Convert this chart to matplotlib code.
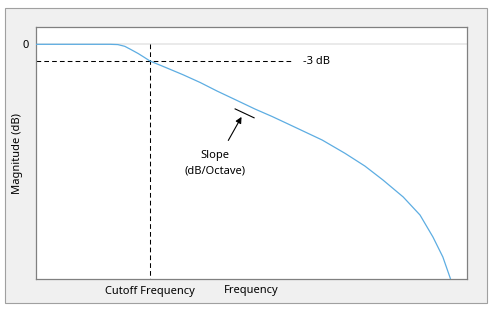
import matplotlib
matplotlib.use('Agg')
import matplotlib.pyplot as plt
from matplotlib.patches import Rectangle

plt.rcParams['font.family'] = ['Noto Sans', 'DejaVu Sans']

# frequency response (x: 0-100 arbitrary freq units, y: dB)
freq = [0.0, 17.2, 19.0, 20.6, 22.0, 23.7, 25.1, 26.45, 30.4, 34.1, 38.1, 42.0,
        46.4, 50.8, 54.8, 58.5, 66.4, 71.7, 76.3, 80.5, 85.2, 89.1, 92.1, 94.4, 96.1, 96.3]
mag = [0.0, 0.0, -0.05, -0.36, -0.93, -1.65, -2.33, -3.0, -4.26, -5.46, -6.86, -8.39,
       -10.0, -11.62, -12.97, -14.31, -17.19, -19.58, -21.86, -24.37, -27.42, -30.66,
       -34.61, -38.2, -41.97, -42.5]
cutoff = 26.45
cut_db = -3.0
slope_seg_x = [46.2, 50.6]
slope_seg_y = [-11.6, -13.2]

fig = plt.figure(figsize=(4.93, 3.15), dpi=100)
# grey panel behind the plot
fig.patches.append(Rectangle((5 / 493, 12 / 315), 482 / 493, 295 / 315,
                             transform=fig.transFigure, facecolor='#f0f0f0',
                             edgecolor='#a0a0a0', lw=0.8, zorder=-5))

ax = fig.add_axes([36 / 493, 36 / 315, 431 / 493, 252 / 315])
ax.set_zorder(2)
ax.set_facecolor('white')
ax.set_xlim(0, 100)
ax.set_ylim(-42.15, 3.11)

ax.axhline(0, color='#e6e6e6', lw=1.2, zorder=1)
ax.plot(freq, mag, color='#5dade2', lw=0.9, zorder=3)

dash = (0, (4.5, 3))
ax.plot([0, 59.4], [cut_db, cut_db], color='black', lw=0.75, ls=dash, zorder=2)
ax.plot([cutoff, cutoff], [0, -42.15], color='black', lw=0.75, ls=dash, zorder=2)
ax.text(61.9, cut_db, '-3 dB', fontsize=8, va='center', ha='left')

# slope marker
ax.plot(slope_seg_x, slope_seg_y, color='black', lw=0.8)
ax.annotate('', xy=(48.0, -12.6), xytext=(44.3, -17.7),
            arrowprops=dict(arrowstyle='-|>', color='black', lw=0.8, mutation_scale=9))
ax.text(41.5, -21.4, 'Slope\n(dB/Octave)', fontsize=8, ha='center', va='center',
        linespacing=1.5)

ax.set_yticks([0])
ax.set_yticklabels(['0'])
ax.set_xticks([cutoff])
ax.set_xticklabels(['Cutoff Frequency'])
ax.tick_params(length=0, labelsize=8, pad=5)
ax.tick_params(axis='x', pad=5)
ax.text(0.5, -0.045, 'Frequency', transform=ax.transAxes, fontsize=8,
        ha='center', va='center')
ax.set_ylabel('Magnitude (dB)', fontsize=8, va='center')
ax.yaxis.set_label_coords(-0.044, 0.5)

for s in ax.spines.values():
    s.set_color('#808080')
    s.set_linewidth(0.9)

fig.savefig('out.png', dpi=100)
